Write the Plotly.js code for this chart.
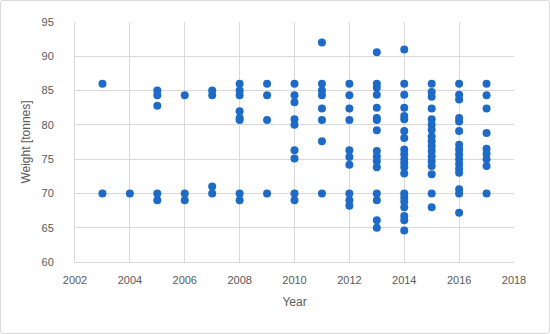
<!DOCTYPE html>
<html>
<head>
<meta charset="utf-8">
<script src="https://cdn.plot.ly/plotly-3.0.1.min.js"></script>
<style>
  html, body { margin: 0; padding: 0; background: #fff; }
  #wrap { position: relative; width: 550px; height: 334px; }
  #chart { width: 550px; height: 334px; }
  #frame { position: absolute; left: 0; top: 0; width: 548px; height: 332px; border: 1px solid #d9d9d9; border-radius: 3px; pointer-events: none; }
</style>
</head>
<body>
<div id="wrap"><div id="chart"></div><div id="frame"></div></div>
<script>
// Weight [tonnes] observations per year
const years = [2003, 2004, 2005, 2006, 2007, 2008, 2009, 2010, 2011, 2012, 2013, 2014, 2015, 2016, 2017];
const w2003 = [86, 70];
const w2004 = [70];
const w2005 = [85, 84.3, 82.8, 70, 69];
const w2006 = [84.3, 70, 69];
const w2007 = [85, 84.3, 71, 70];
const w2008 = [86, 85, 84.3, 82, 81, 80.7, 70, 69];
const w2009 = [86, 84.3, 80.7, 70];
const w2010 = [86, 84.3, 83.3, 80.8, 80, 76.3, 75.1, 70, 69];
const w2011 = [92, 86, 85, 84.3, 82.4, 80.7, 77.6, 70];
const w2012 = [86, 84.3, 82.4, 80.7, 76.3, 75.3, 74.2, 70, 69, 68.2];
const w2013 = [90.6, 86, 85.4, 84.4, 82.5, 81, 80.7, 79.2, 76.2, 75.4, 74.7, 73.8, 70, 69, 66.1, 65];
const w2014 = [91, 86, 84.4, 82.5, 81.3, 80.8, 79.1, 78.1, 76.4, 75.7, 75, 74.4, 73.8, 72.9, 70, 69.4, 68.8, 68, 66.7, 66.1, 64.6];
const w2015 = [86, 84.8, 84.1, 82.4, 80.8, 80, 79.3, 78.3, 77.6, 76.9, 76.2, 75.4, 74.7, 74, 72.8, 70, 68];
const w2016 = [86, 84.4, 83.7, 81, 80.5, 79.1, 77.1, 76.4, 75.7, 75, 74.3, 73.6, 73, 70.6, 70, 67.2];
const w2017 = [86, 84.3, 82.4, 78.8, 76.5, 75.8, 75, 74, 70];
const weightsByYear = [w2003, w2004, w2005, w2006, w2007, w2008, w2009, w2010, w2011, w2012, w2013, w2014, w2015, w2016, w2017];

const xTicks = [2002, 2004, 2006, 2008, 2010, 2012, 2014, 2016, 2018];
const yTicks = [60, 65, 70, 75, 80, 85, 90, 95];

const xs = [], ys = [];
years.forEach((yr, i) => weightsByYear[i].forEach(w => { xs.push(yr); ys.push(w); }));

const font = "'Liberation Sans', Arial, sans-serif";
const trace = {
  type: 'scatter', mode: 'markers', x: xs, y: ys,
  marker: { color: '#1d6bc6', size: 8 },
  hoverinfo: 'x+y'
};
const layout = {
  width: 550, height: 334,
  margin: { l: 75, r: 36, t: 22, b: 72 },
  paper_bgcolor: '#fff', plot_bgcolor: '#fff',
  showlegend: false,
  font: { family: font, size: 11, color: '#595959' },
  xaxis: {
    range: [2002, 2018], tickvals: xTicks, ticktext: xTicks.map(String),
    showgrid: true, gridcolor: '#d9d9d9', gridwidth: 1,
    showline: true, linecolor: '#d9d9d9', linewidth: 1,
    zeroline: false, ticks: 'outside', ticklen: 8, tickcolor: 'rgba(0,0,0,0)',
    tickfont: { family: font, size: 11, color: '#595959' },
    title: { text: 'Year', font: { family: font, size: 12, color: '#595959' }, standoff: 12 }
  },
  yaxis: {
    range: [60, 95], tickvals: yTicks, ticktext: yTicks.map(String),
    showgrid: true, gridcolor: '#d9d9d9', gridwidth: 1,
    showline: true, linecolor: '#d9d9d9', linewidth: 1,
    zeroline: false, ticks: 'outside', ticklen: 18, tickcolor: 'rgba(0,0,0,0)',
    tickfont: { family: font, size: 11, color: '#595959' },
    title: { text: 'Weight [tonnes]', font: { family: font, size: 12, color: '#595959' }, standoff: 8 }
  }
};
Plotly.newPlot('chart', [trace], layout, { displayModeBar: false, staticPlot: true });
</script>
</body>
</html>
